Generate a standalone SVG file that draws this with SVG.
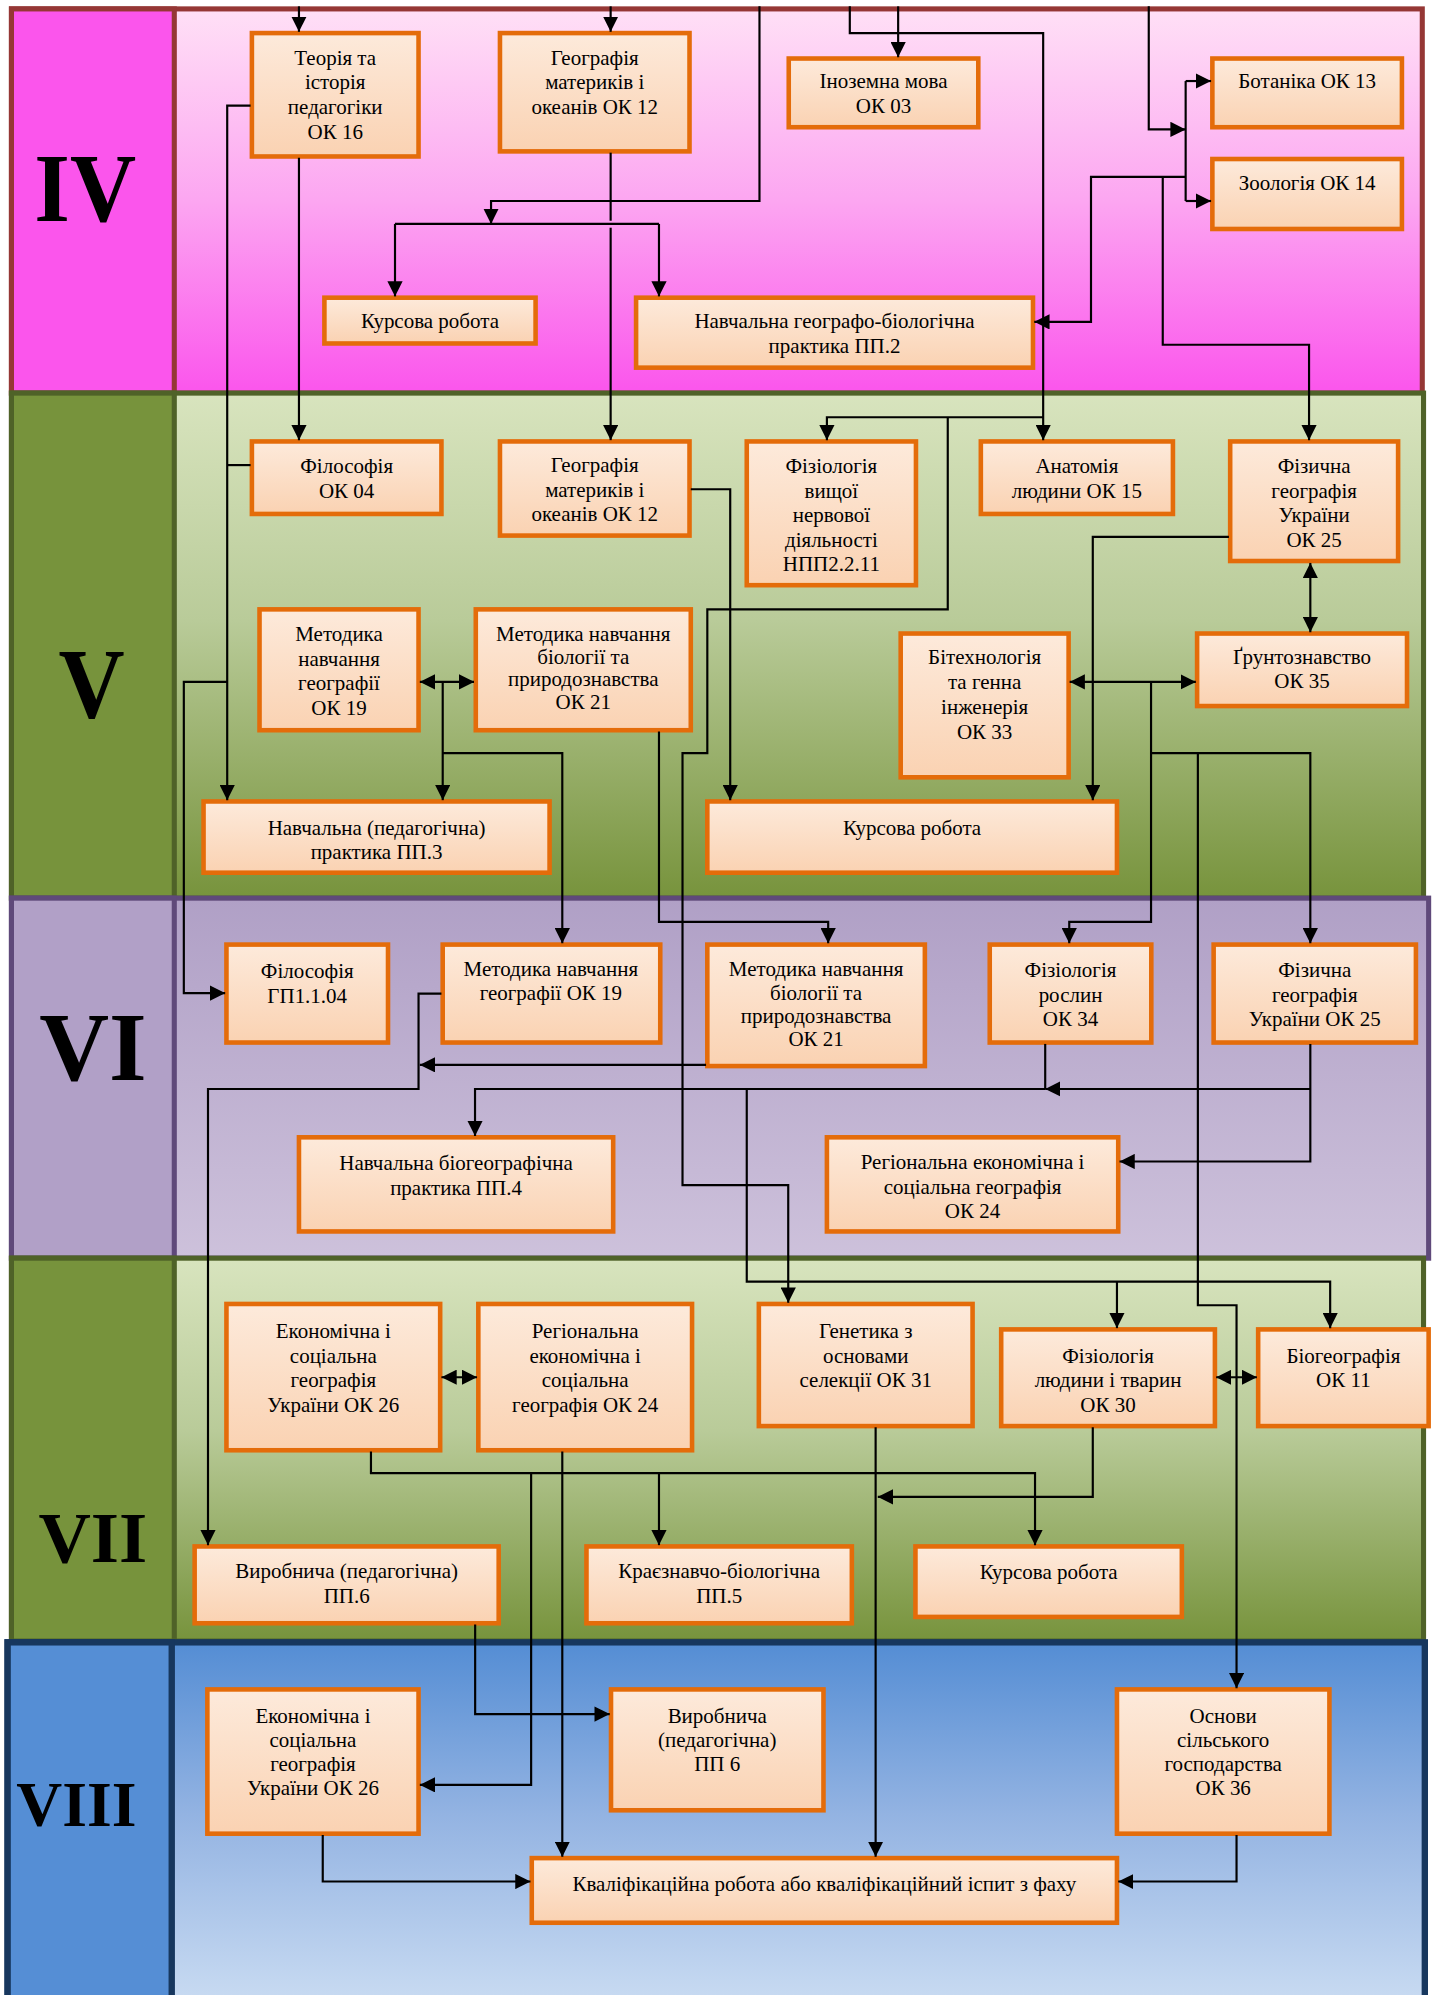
<svg xmlns="http://www.w3.org/2000/svg" width="1435" height="1995" viewBox="0 0 1435 1995">
<defs>
<linearGradient id="gIV" x1="0" y1="0" x2="0" y2="1"><stop offset="0" stop-color="#FFE0F6"/><stop offset="0.5" stop-color="#FCA6F1"/><stop offset="1" stop-color="#FB55EC"/></linearGradient>
<linearGradient id="gV" x1="0" y1="0" x2="0" y2="1"><stop offset="0" stop-color="#D8E4BE"/><stop offset="0.45" stop-color="#B9CB99"/><stop offset="1" stop-color="#77933C"/></linearGradient>
<linearGradient id="gVI" x1="0" y1="0" x2="0" y2="1"><stop offset="0" stop-color="#B0A0C6"/><stop offset="1" stop-color="#CDC1DB"/></linearGradient>
<linearGradient id="gVIII" x1="0" y1="0" x2="0" y2="1"><stop offset="0" stop-color="#548DD4"/><stop offset="0.45" stop-color="#93B3E2"/><stop offset="0.92" stop-color="#C6D9F1"/><stop offset="1" stop-color="#C8DAF2"/></linearGradient>
<linearGradient id="gBox" x1="0" y1="0" x2="0" y2="1"><stop offset="0" stop-color="#FDEADB"/><stop offset="1" stop-color="#FAD2B2"/></linearGradient>
<marker id="ah" markerUnits="userSpaceOnUse" markerWidth="12" markerHeight="12" viewBox="0 0 12 12" refX="12" refY="6" orient="auto-start-reverse"><path d="M0,0 L12,6 L0,12 z" fill="#000"/></marker>
</defs>
<style>
.box{fill:url(#gBox);stroke:#E46C0A;stroke-width:3.6}
.t{font-family:"Liberation Serif","Times New Roman",serif;font-size:16.5px;fill:#000;text-anchor:middle}
.rn{font-family:"Liberation Serif","Times New Roman",serif;font-weight:bold;fill:#000;text-anchor:middle}
.c{fill:none;stroke:#000;stroke-width:1.7}
.a{marker-end:url(#ah)}
.d{marker-start:url(#ah);marker-end:url(#ah)}
</style>
<rect width="1435" height="1995" fill="#fff"/>
<g transform="scale(1.27216)">
<g id="bands">
<g id="band-IV">
<rect x="9" y="7" width="1109" height="302" fill="url(#gIV)" stroke="#953735" stroke-width="4"/>
<rect x="9" y="7" width="128" height="302" fill="#FB55EC" stroke="#953735" stroke-width="4"/>
<text class="rn" x="67" y="174" font-size="76" textLength="80" lengthAdjust="spacingAndGlyphs">IV</text>
</g>
<g id="band-V">
<rect x="9" y="309" width="1110" height="397" fill="url(#gV)" stroke="#4F6228" stroke-width="4"/>
<rect x="9" y="309" width="128" height="397" fill="#77933C" stroke="#4F6228" stroke-width="4"/>
<text class="rn" x="72" y="564" font-size="78" textLength="52" lengthAdjust="spacingAndGlyphs">V</text>
</g>
<g id="band-VI">
<rect x="9" y="706" width="1114" height="283" fill="url(#gVI)" stroke="#5F497A" stroke-width="4"/>
<rect x="9" y="706" width="128" height="283" fill="#B1A0C7" stroke="#5F497A" stroke-width="4"/>
<text class="rn" x="73" y="849" font-size="76">VI</text>
</g>
<g id="band-VII">
<rect x="9" y="989" width="1110" height="301" fill="url(#gV)" stroke="#4F6228" stroke-width="4"/>
<rect x="9" y="989" width="128" height="301" fill="#77933C" stroke="#4F6228" stroke-width="4"/>
<text class="rn" x="73" y="1228" font-size="57">VII</text>
</g>
<g id="band-VIII">
<rect x="6" y="1291" width="1114" height="300" fill="url(#gVIII)" stroke="#17375E" stroke-width="5"/>
<rect x="6" y="1291" width="129" height="300" fill="#558ED5" stroke="#17375E" stroke-width="5"/>
<text class="rn" x="60" y="1435" font-size="50">VIII</text>
</g>
</g>
<g id="nodes">
<g id="n1"><rect class="box" x="198" y="26" width="131" height="97"/><text class="t"><tspan x="263.5" y="51">Теорія та</tspan><tspan x="263.5" y="70">історія</tspan><tspan x="263.5" y="89.5">педагогіки</tspan><tspan x="263.5" y="109">ОК 16</tspan></text></g>
<g id="n2"><rect class="box" x="393" y="26" width="149" height="93"/><text class="t"><tspan x="467.5" y="51">Географія</tspan><tspan x="467.5" y="70">материків і</tspan><tspan x="467.5" y="89.5">океанів ОК 12</tspan></text></g>
<g id="n3"><rect class="box" x="620" y="46" width="149" height="54"/><text class="t"><tspan x="694.5" y="69.5">Іноземна мова</tspan><tspan x="694.5" y="89">ОК 03</tspan></text></g>
<g id="n4"><rect class="box" x="953" y="46" width="149" height="54"/><text class="t" x="1027.5" y="69.5">Ботаніка ОК 13</text></g>
<g id="n5"><rect class="box" x="953" y="125" width="149" height="55"/><text class="t" x="1027.5" y="149">Зоологія ОК 14</text></g>
<g id="n6"><rect class="box" x="255" y="234" width="166" height="36"/><text class="t" x="338" y="258">Курсова робота</text></g>
<g id="n7"><rect class="box" x="500" y="234" width="312" height="55"/><text class="t"><tspan x="656" y="258">Навчальна географо-біологічна</tspan><tspan x="656" y="277.5">практика ПП.2</tspan></text></g>
<g id="n8"><rect class="box" x="198" y="347" width="149" height="57"/><text class="t"><tspan x="272.5" y="372">Філософія</tspan><tspan x="272.5" y="391.5">ОК 04</tspan></text></g>
<g id="n9"><rect class="box" x="393" y="347" width="149" height="74"/><text class="t"><tspan x="467.5" y="371">Географія</tspan><tspan x="467.5" y="390.5">материків і</tspan><tspan x="467.5" y="409.5">океанів ОК 12</tspan></text></g>
<g id="n10"><rect class="box" x="587" y="347" width="133" height="113"/><text class="t"><tspan x="653.5" y="372">Фізіологія</tspan><tspan x="653.5" y="391.3">вищої</tspan><tspan x="653.5" y="410.6">нервової</tspan><tspan x="653.5" y="429.9">діяльності</tspan><tspan x="653.5" y="449.2">НПП2.2.11</tspan></text></g>
<g id="n11"><rect class="box" x="771" y="347" width="151" height="57"/><text class="t"><tspan x="846.5" y="372">Анатомія</tspan><tspan x="846.5" y="391.5">людини ОК 15</tspan></text></g>
<g id="n12"><rect class="box" x="967" y="347" width="132" height="94"/><text class="t"><tspan x="1033" y="372">Фізична</tspan><tspan x="1033" y="391.3">географія</tspan><tspan x="1033" y="410.6">України</tspan><tspan x="1033" y="429.9">ОК 25</tspan></text></g>
<g id="n13"><rect class="box" x="204" y="479" width="125" height="95"/><text class="t"><tspan x="266.5" y="504">Методика</tspan><tspan x="266.5" y="523.3">навчання</tspan><tspan x="266.5" y="542.6">географії</tspan><tspan x="266.5" y="561.9">ОК 19</tspan></text></g>
<g id="n14"><rect class="box" x="374" y="479" width="169" height="95"/><text class="t"><tspan x="458.5" y="504">Методика навчання</tspan><tspan x="458.5" y="521.8">біології та</tspan><tspan x="458.5" y="539.6">природознавства</tspan><tspan x="458.5" y="557.4">ОК 21</tspan></text></g>
<g id="n15"><rect class="box" x="708" y="498" width="132" height="113"/><text class="t"><tspan x="774" y="522">Бітехнологія</tspan><tspan x="774" y="541.6">та генна</tspan><tspan x="774" y="561.2">інженерія</tspan><tspan x="774" y="580.8">ОК 33</tspan></text></g>
<g id="n16"><rect class="box" x="941" y="498" width="165" height="57"/><text class="t"><tspan x="1023.5" y="522">Ґрунтознавство</tspan><tspan x="1023.5" y="541">ОК 35</tspan></text></g>
<g id="n17"><rect class="box" x="160" y="630" width="272" height="56"/><text class="t"><tspan x="296" y="656">Навчальна (педагогічна)</tspan><tspan x="296" y="675">практика ПП.3</tspan></text></g>
<g id="n18"><rect class="box" x="556" y="630" width="322" height="56"/><text class="t" x="717" y="656">Курсова робота</text></g>
<g id="n19"><rect class="box" x="178" y="742.5" width="127" height="77"/><text class="t"><tspan x="241.5" y="769">Філософія</tspan><tspan x="241.5" y="788.4">ГП1.1.04</tspan></text></g>
<g id="n20"><rect class="box" x="348" y="742.5" width="171" height="77"/><text class="t"><tspan x="433" y="767.5">Методика навчання</tspan><tspan x="433" y="786.4">географії ОК 19</tspan></text></g>
<g id="n21"><rect class="box" x="556" y="742.5" width="171" height="95.5"/><text class="t"><tspan x="641.5" y="767.5">Методика навчання</tspan><tspan x="641.5" y="785.7">біології та</tspan><tspan x="641.5" y="804">природознавства</tspan><tspan x="641.5" y="822.3">ОК 21</tspan></text></g>
<g id="n22"><rect class="box" x="778" y="742.5" width="127" height="77"/><text class="t"><tspan x="841.5" y="768">Фізіологія</tspan><tspan x="841.5" y="787.4">рослин</tspan><tspan x="841.5" y="806.6">ОК 34</tspan></text></g>
<g id="n23"><rect class="box" x="954" y="742.5" width="159" height="77"/><text class="t"><tspan x="1033.5" y="768">Фізична</tspan><tspan x="1033.5" y="787.4">географія</tspan><tspan x="1033.5" y="806.6">України ОК 25</tspan></text></g>
<g id="n24"><rect class="box" x="235" y="894" width="247" height="74"/><text class="t"><tspan x="358.5" y="920">Навчальна біогеографічна</tspan><tspan x="358.5" y="939">практика ПП.4</tspan></text></g>
<g id="n25"><rect class="box" x="650" y="894" width="229" height="74"/><text class="t"><tspan x="764.5" y="919">Регіональна економічна і</tspan><tspan x="764.5" y="938.2">соціальна географія</tspan><tspan x="764.5" y="957.4">ОК 24</tspan></text></g>
<g id="n26"><rect class="box" x="178" y="1025" width="168" height="115"/><text class="t"><tspan x="262" y="1052">Економічна і</tspan><tspan x="262" y="1071.4">соціальна</tspan><tspan x="262" y="1090.6">географія</tspan><tspan x="262" y="1110">України ОК 26</tspan></text></g>
<g id="n27"><rect class="box" x="376" y="1025" width="168" height="115"/><text class="t"><tspan x="460" y="1052">Регіональна</tspan><tspan x="460" y="1071.4">економічна і</tspan><tspan x="460" y="1090.6">соціальна</tspan><tspan x="460" y="1110">географія ОК 24</tspan></text></g>
<g id="n28"><rect class="box" x="596.5" y="1025" width="168" height="96"/><text class="t"><tspan x="680.5" y="1052">Генетика з</tspan><tspan x="680.5" y="1071.4">основами</tspan><tspan x="680.5" y="1090.6">селекції ОК 31</tspan></text></g>
<g id="n29"><rect class="box" x="787" y="1045" width="168" height="76"/><text class="t"><tspan x="871" y="1071.4">Фізіологія</tspan><tspan x="871" y="1090.6">людини і тварин</tspan><tspan x="871" y="1109.6">ОК 30</tspan></text></g>
<g id="n30"><rect class="box" x="989" y="1045" width="134" height="76"/><text class="t"><tspan x="1056" y="1071.4">Біогеографія</tspan><tspan x="1056" y="1090.6">ОК 11</tspan></text></g>
<g id="n31"><rect class="box" x="153" y="1215.6" width="239" height="60.4"/><text class="t"><tspan x="272.5" y="1240.4">Виробнича (педагогічна)</tspan><tspan x="272.5" y="1260">ПП.6</tspan></text></g>
<g id="n32"><rect class="box" x="461" y="1215.6" width="208.6" height="60.4"/><text class="t"><tspan x="565.3" y="1240.4">Краєзнавчо-біологічна</tspan><tspan x="565.3" y="1260">ПП.5</tspan></text></g>
<g id="n33"><rect class="box" x="719.6" y="1215.6" width="209.4" height="55.4"/><text class="t" x="824.3" y="1241">Курсова робота</text></g>
<g id="n34"><rect class="box" x="163" y="1328" width="166" height="113.4"/><text class="t"><tspan x="246" y="1354">Економічна і</tspan><tspan x="246" y="1373.2">соціальна</tspan><tspan x="246" y="1392.3">географія</tspan><tspan x="246" y="1411.3">України ОК 26</tspan></text></g>
<g id="n35"><rect class="box" x="480.3" y="1328" width="167" height="95"/><text class="t"><tspan x="563.8" y="1354">Виробнича</tspan><tspan x="563.8" y="1373.2">(педагогічна)</tspan><tspan x="563.8" y="1392.3">ПП 6</tspan></text></g>
<g id="n36"><rect class="box" x="878" y="1328" width="167" height="113.4"/><text class="t"><tspan x="961.5" y="1354">Основи</tspan><tspan x="961.5" y="1373.2">сільського</tspan><tspan x="961.5" y="1392.3">господарства</tspan><tspan x="961.5" y="1411.3">ОК 36</tspan></text></g>
<g id="n37"><rect class="box" x="418" y="1460.6" width="460" height="50.8"/><text class="t" x="648" y="1486.7">Кваліфікаційна робота або кваліфікаційний іспит з фаху</text></g>
</g>
<g id="connectors">
<path class="c a" d="M235,5 V25"/>
<path class="c a" d="M480,5 V25"/>
<path class="c a" d="M597,5 V158 H386 V176"/>
<path class="c" d="M310.5,176 H518"/>
<path class="c a" d="M310.5,176 V233"/>
<path class="c a" d="M518,176 V233"/>
<path class="c" d="M480,120 V173.5"/>
<path class="c a" d="M480,179 V346"/>
<path class="c a" d="M235,124 V346"/>
<path class="c a" d="M197,83 H178.6 V629"/>
<path class="c" d="M197,365.6 H178.6"/>
<path class="c a" d="M668,5 V26 H820 V346"/>
<path class="c a" d="M706,5 V45"/>
<path class="c a" d="M903,5 V101.7 H932"/>
<path class="c" d="M932,63.7 V158"/>
<path class="c a" d="M932,63.7 H952"/>
<path class="c a" d="M932,158 H952"/>
<path class="c a" d="M932,139 H857.6 V253 H813"/>
<path class="c a" d="M914,139 V271 H1029 V346"/>
<path class="c a" d="M820,328 H650 V346"/>
<path class="c a" d="M745,328 V479 H556 V592 H536.5 V931.6 H619.6 V1024"/>
<path class="c a" d="M543,384.6 H574 V629"/>
<path class="c a" d="M966,422 H859 V629"/>
<path class="c d" d="M1030,442.5 V497"/>
<path class="c d" d="M840.8,536 H940"/>
<path class="c a" d="M904.8,536 V724.6 H840.5 V741.5"/>
<path class="c a" d="M904.8,592 H1030 V741.5"/>
<path class="c a" d="M941.6,592 V1026 H972 V1327"/>
<path class="c d" d="M330,536 H372.6"/>
<path class="c a" d="M348,536 V629"/>
<path class="c a" d="M348,592 H442 V741.5"/>
<path class="c a" d="M518,575 V724.6 H651 V741.5"/>
<path class="c a" d="M178.6,536 H144.5 V780.6 H177"/>
<path class="c a" d="M347,781 H329 V856 H163.5 V1214.6"/>
<path class="c a" d="M555,837 H330"/>
<path class="c" d="M821.6,820.6 V856"/>
<path class="c a" d="M1030,820.6 V913 H880"/>
<path class="c a" d="M1030,856 H821.6"/>
<path class="c a" d="M821.6,856 H373.4 V893"/>
<path class="c a" d="M587,856 V1007.5 H1045.6 V1044"/>
<path class="c a" d="M878,1007.5 V1044"/>
<path class="c d" d="M347,1082.6 H375"/>
<path class="c a" d="M291.6,1141 V1158 H813.6 V1214.6"/>
<path class="c a" d="M518,1158 V1214.6"/>
<path class="c a" d="M417.5,1158 V1403 H330"/>
<path class="c a" d="M442,1141 V1459.6"/>
<path class="c a" d="M688.3,1122 V1459.6"/>
<path class="c a" d="M859,1122 V1176.7 H690"/>
<path class="c d" d="M956,1082.6 H988"/>
<path class="c a" d="M373.5,1277 V1347.4 H479.3"/>
<path class="c a" d="M253.7,1442.4 V1479 H417"/>
<path class="c a" d="M972,1442.4 V1479 H879"/>
</g>
</g>
</svg>
